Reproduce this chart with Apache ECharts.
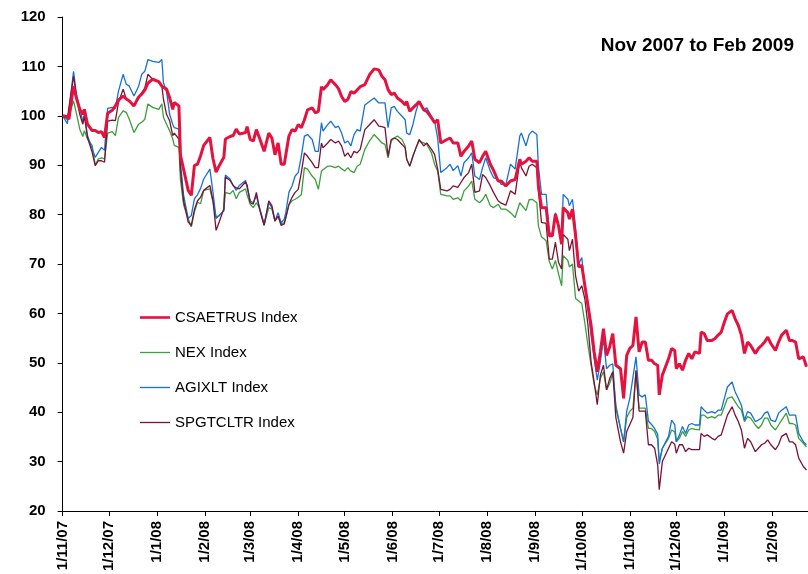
<!DOCTYPE html>
<html><head><meta charset="utf-8">
<script src="https://cdn.jsdelivr.net/npm/echarts@6/dist/echarts.min.js"></script>
<style>html,body{margin:0;padding:0;background:#fff}#c{width:808px;height:574px}</style>
</head><body><div id="c"></div><script>
// Day offsets from 1 Nov 2007
const days = [0,3,4,7,9,11,13,14,16,19,21,23,25,27,29,32,34,36,39,41,43,46,49,51,53,55,58,62,64,65,67,69,71,72,75,76,78,81,83,85,87,89,91,95,97,99,101,104,105,108,110,112,114,118,119,
121,123,125,127,130,133,135,137,139,141,143,144,146,148,150,152,154,156,158,161,163,165,167,168,171,173,176,178,180,182,184,186,188,190,192,195,198,201,204,206,208,210,212,214,216,219,221,222,224,226,228,230,233,235,238,240,242,244,248,250,252,255,257,259,262,264,266,269,
271,273,276,278,281,283,286,289,292,295,296,299,301,303,306,
307,309,312,314,316,318,320,322,323,326,327,329,331,333,335,337,339,341,343,345,347,349,351,353,355,357,360,362,364,366,368,370,372,374,376,378,380,382,384,385,
387,391,393,395,396,398,400,402,404,406,408,411,412,414,416,419,421,423,425,427,429,432,434,436,438,440,442,444,447,449,451,453,455,457,460,462,464,467,469,471,473,475,478,480];

const csaetrus = [100,99.8,99.3,106,103.4,101.3,100.3,101.3,98.3,97,97,96.6,96.8,95.6,100.5,101.1,102,103.2,104,103.4,103,102,103.8,104.4,105.2,106.6,107.4,106.9,106,105.7,105.4,103.7,101.3,102.7,102,92,89.2,84.9,83.9,89.9,90.2,91.9,94,95.6,91.3,88.6,89.9,91.6,95.3,95.8,96,97.3,96.3,96.6,97.8,
95.2,94.9,97.2,95.5,92.8,96.5,95.5,92.1,94.5,90.2,90.2,90.2,95.9,97.2,96.9,98.2,97.6,99.2,101.2,101.6,100.6,100.9,105.9,105.3,106.3,107.3,106.3,105.5,103.9,102.9,103.3,104.9,104.6,105.2,105.9,106.3,108.3,109.5,109.3,108,107.3,105.3,104.3,104.6,103.6,102.9,102.2,102.9,100.9,101.6,102.2,102.9,101.2,100.9,99.6,98.6,99.2,94.5,95.2,95.5,94.5,94.5,91.8,92.8,93.9,94.9,91.2,90.5,
91.8,92.8,90.2,89,86.8,86.8,85.8,86.8,87.1,91.2,90.2,90.8,91.5,90.8,90.8,
85.8,81.4,81.4,75.7,75.7,80.1,77.7,74,81.4,80.4,79.1,81.1,75.7,69.4,69.7,65.6,61.6,57.6,52.2,48.2,52.2,56.9,51.5,53.2,55.9,49.5,48.8,42.8,51.5,52.9,53.5,59.3,52.2,54.2,54.2,50.5,50.5,49.8,49.5,43.5,
47.5,50.8,52.9,52.5,48.8,49.8,48.5,50.5,51.9,50.8,52.2,51.9,56.2,55.9,54.5,54.5,54.9,55.6,56.2,58.2,59.9,60.6,58.9,57.6,55.6,51.9,54.2,53.5,51.9,52.9,53.5,54.2,55.2,53.9,52.5,54.2,55.6,56.6,54.5,54.5,54.2,50.8,51.2,49.2];

const nex = [100,99.2,99,103,100.3,97.3,95.8,97,95.3,94,90,91.3,91.5,91.3,96.5,96.8,96,99.7,101,100.7,99.3,96.6,98.3,98.7,99.3,102.4,101.7,101.3,102.4,99.7,98.3,97,95.3,94,93.6,87,82,79.2,77.5,80.5,82.5,82.2,84.9,85.2,82.5,79.5,79.8,80.8,84.5,84.2,84.9,83.2,84.5,85.2,84,
82.1,81.4,82.4,81.4,78,81.4,81.1,78.7,79.7,78,78.4,79.4,82,82.8,83.1,83.5,84,89.5,89.2,87.8,87.1,85.1,88.8,89.2,89.8,89.8,89.5,89.8,89.3,88.8,89.5,88.8,88.5,89.8,90.2,93.2,94.9,96.2,95.2,94.5,94.2,91.5,94.9,95.5,95.9,95.2,93.9,91.2,89.8,91.8,93.5,94.9,94.5,94.2,92.5,90.2,88.8,84.1,83.8,83.8,83.1,83.4,82.8,84.8,85.8,86.8,83.1,82.4,
83,84.1,81.8,81.4,82.1,81.1,81.1,80.4,79.4,82.4,82.8,80.8,83,83.1,82.4,
77.7,75.5,74.7,70.5,69,70.7,68,65.6,71.7,70.7,69.4,70,63,62.5,62,58,53.5,49.5,45.5,43.5,46.8,48.2,44.5,45.8,47.8,41.5,36.7,34,38.9,40.2,40.8,48.2,40.8,40.8,40.8,36.7,36.7,36.1,34.5,30,
32.7,34.7,36.4,36,34,34.7,36.1,35.1,36.4,36.7,36.5,36.4,39.4,39.4,38.8,39.1,38.8,39.4,39.4,41.1,42.8,43.1,42.1,41.1,40.4,38.1,39.1,38.8,37.4,36.7,37.4,38.8,38.8,37.4,36.4,37.4,38.4,39.8,37.7,37.7,37.4,34.7,33.7,33];

const agixlt = [100,98.4,98,109,104,101.7,98.7,100.3,96,93.3,91.6,92.6,93.6,93,101.5,101.7,101.5,105,108.4,106.4,106,104,106,108.4,109,111.4,111,110.8,111.4,106.7,105,100.3,98.3,97.6,97.3,90.5,84,79.2,79.8,83.2,84,85.3,87.2,89.2,84.5,79.2,79.8,80.8,88,87.2,85.9,84.9,85.9,86.9,86.5,
82.8,82.4,83.8,81.4,78,82.4,81.4,78.7,80.4,78.3,79.1,80.4,84.5,85.8,87.8,88.5,91.8,95.9,96.2,95.2,92.8,92.8,98.6,96.9,98.2,98.9,97.6,97.9,96.5,94.5,94.9,93.9,96.2,97.2,96.9,102.2,102.9,103.6,102.6,102.6,102.6,97.6,101.6,101.9,100.9,99.9,99.2,96.5,96.2,98.2,100.9,102.9,101.2,101.6,99.9,98.9,95.5,88.5,89.5,90.2,88.9,89.9,87.8,90.5,91.5,92.5,87.8,87.1,
89.5,91.5,88.8,87.5,87.1,86.1,86,90.2,89.2,95.9,96.5,93.9,96.2,96.9,96.2,
89.8,84.1,84.1,76.4,76,80.4,77.7,74.7,84.1,83.1,81.8,83.1,77,70,71.3,65.6,61,55.6,50.9,46.5,50.2,54.9,48.8,49.5,49.8,40.8,36.7,34,40.2,42.8,47,51.2,43.5,43.1,43.5,38.2,37.5,36.7,35.5,29.5,
32.7,35.1,38.4,37.5,34,35.4,37.1,35.7,37.4,37.7,37.4,37.4,41.1,40.4,39.8,40.1,39.8,40.4,40.4,42.8,45.1,46.1,44.1,42.8,41.4,38.4,40.1,39.8,38.1,38.4,38.8,39.8,40.1,38.4,38.1,39.8,40.4,41.1,39.4,39.4,39.4,35.7,34,33.4];

const spgtcltr = [100,99.5,99.3,108,103.7,100.3,98.3,100,95.6,92.6,89.9,90.9,90.9,90.6,98.9,99.1,99,102.7,105.4,103.4,103,102,103.5,104.7,105.6,108.4,107.4,106.8,106,103.4,100.3,99,96,96.5,95.3,89,82.8,78.5,77.8,81,82.8,83.5,84.9,85.9,82.8,76.8,78.5,81.2,87.6,86.9,85.9,85.4,85.2,86.6,86,
82.4,82.1,84.5,81.1,77.8,82.8,81.8,78.7,79.7,77.8,78.1,79.4,82,83.5,84.5,85.1,88.5,92.5,91.8,90.5,89.5,89.5,94.5,93.5,94.5,95.2,94.5,94.9,93.9,91.8,92.5,91.5,92.8,92.5,93.2,97.2,98.2,99.2,97.9,97.8,97.6,91.8,95.2,95.5,95.2,94.2,93.5,91.2,89.8,91.8,93.5,95.2,93.9,94.5,93.2,92.2,89.2,85.1,84.8,85.1,85.8,85.5,86.5,87.5,88.5,90.2,84.5,84.8,
88.1,87.5,85.8,84.5,82.8,82.3,81.9,84.8,84.1,90.8,89.5,87.8,89.8,90.2,89.5,
85.1,78.4,78.2,71,71,74.4,70.3,69,76,75,72.7,75,67.6,64.5,65.6,62.9,57.6,50.2,46.1,41.5,47.5,49.5,44.5,46.8,48.2,38.9,34,31.7,36.1,37.5,38.9,48.5,40.2,40.2,40.2,33.4,33.4,32.7,29.3,24.3,
30,32.7,34,33.5,31.7,33.4,33.4,32,32.7,32.4,32.4,32.4,35.7,35.1,35.4,34.7,34.4,35.1,35.4,37.4,39.4,41.1,39.4,38.1,36.4,32.7,34.7,34,32,32.7,33.4,33.7,34.4,33.4,32.4,33.4,35.1,35.7,34,34,33.4,30.7,29,28.3];

const seriesNames = ['CSAETRUS Index','NEX Index','AGIXLT Index','SPGTCLTR Index'];
const seriesValues = [csaetrus, nex, agixlt, spgtcltr];
const seriesColors = ['#E3123F','#3C9E3C','#1672D2','#7A1232'];
const seriesWidths = [3, 1.3, 1.3, 1.3];
const seriesZ = [6, 3, 4, 5];
const titleText = 'Nov 2007 to Feb 2009';
const yMin = 20, yMax = 120, yStep = 10;
const lastDay = 481;

function toTime(d) { return new Date(2007, 10, 1 + d).getTime(); }
const DAY = 86400000;
const font = '"Liberation Sans", Arial, sans-serif';

const chart = echarts.init(document.getElementById('c'), null, {renderer: 'canvas'});
chart.setOption({
  animation: false,
  backgroundColor: '#fff',
  title: {
    text: titleText, right: 9, top: 31,
    textStyle: {fontFamily: font, fontWeight: 'bold', fontSize: 19, color: '#000'}
  },
  legend: {
    orient: 'vertical', left: 140, top: 310, padding: 0,
    itemWidth: 30, itemHeight: 14, itemGap: 20,
    data: seriesNames.map((n, i) => ({
      name: n,
      icon: i === 0 ? 'path://M0,0 L30,0 L30,2.6 L0,2.6 Z' : 'path://M0,0 L30,0 L30,1.3 L0,1.3 Z'
    })),
    itemStyle: {borderWidth: 0},
    lineStyle: {opacity: 0},
    textStyle: {fontFamily: font, fontSize: 15, color: '#000'}
  },
  grid: {left: 62.7, right: 0, top: 17, bottom: 61, containLabel: false},
  xAxis: {
    type: 'time',
    min: toTime(0), max: toTime(lastDay),
    splitNumber: 16,
    minInterval: 28 * DAY, maxInterval: 31 * DAY,
    axisLine: {lineStyle: {color: '#000', width: 1}},
    axisTick: {show: true, length: 5, lineStyle: {color: '#000'}},
    splitLine: {show: false},
    minorTick: {show: false},
    axisLabel: {
      rotate: 90, margin: 10, color: '#000', fontFamily: font, fontWeight: 'bold', fontSize: 15,
      hideOverlap: false, showMinLabel: true, showMaxLabel: false,
      formatter: function (v) {
        const d = new Date(v);
        return d.getDate() + '/' + (d.getMonth() + 1) + '/' + String(d.getFullYear()).slice(2);
      }
    }
  },
  yAxis: {
    type: 'value', min: yMin, max: yMax, interval: yStep,
    axisLine: {show: true, lineStyle: {color: '#000', width: 1}},
    axisTick: {show: true, length: 5, lineStyle: {color: '#000'}},
    splitLine: {show: false},
    axisLabel: {color: '#000', fontFamily: font, fontWeight: 'bold', fontSize: 15, margin: 17}
  },
  series: seriesNames.map((name, i) => ({
    name: name, type: 'line', symbol: 'none', showSymbol: false,
    z: seriesZ[i],
    clip: true,
    lineStyle: {color: seriesColors[i], width: seriesWidths[i]},
    itemStyle: {color: seriesColors[i]},
    data: days.map((d, k) => [toTime(d), seriesValues[i][k]])
  }))
});
</script></body></html>
